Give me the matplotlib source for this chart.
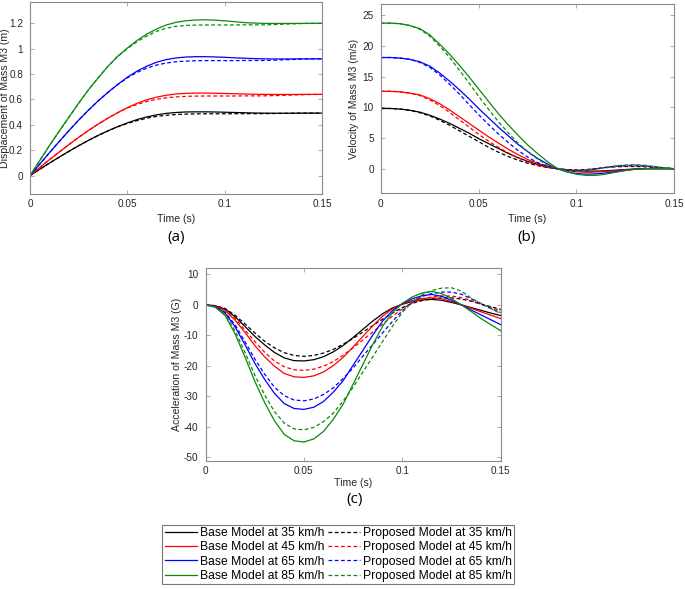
import numpy as np
import matplotlib
matplotlib.use("Agg")
import matplotlib.pyplot as plt
from matplotlib.lines import Line2D

plt.rcParams['font.family'] = ['Liberation Sans', 'DejaVu Sans']

# time axis, 0.005 s steps
time = np.round(np.arange(0, 0.1501, 0.005), 3)

speeds = ["35", "45", "65", "85"]
colors = ['black', '#ff0000', '#0000ff', '#0a8a0a']

# displacement (m)
disp_base = [
    [0, .049, .098, .145, .191, .235, .277, .316, .352, .385, .415, .441, .462, .478, .49, .497,
     .501, .502, .502, .501, .499, .497, .495, .493, .492, .491, .491, .491, .492, .492, .492],
    [0, .0625, .125, .185, .244, .301, .355, .405, .452, .495, .535, .569, .597, .618, .633, .643,
     .648, .65, .65, .649, .647, .645, .643, .641, .64, .639, .639, .639, .64, .64, .64],
    [0, .09, .18, .268, .354, .437, .515, .588, .655, .717, .775, .823, .862, .893, .914, .927,
     .934, .937, .937, .935, .932, .928, .925, .922, .92, .919, .919, .919, .92, .92, .92],
    [0, .118, .236, .35, .46, .57, .675, .77, .86, .94, 1.005, 1.065, 1.115, 1.155, 1.187, 1.208,
     1.22, 1.226, 1.228, 1.225, 1.22, 1.213, 1.206, 1.202, 1.2, 1.199, 1.199, 1.199, 1.2, 1.2, 1.2],
]
disp_prop = [
    [0, .049, .098, .145, .191, .235, .277, .316, .352, .384, .41, .433, .452, .466, .475, .481,
     .484, .486, .487, .487, .487, .487, .487, .488, .488, .489, .49, .491, .492, .492, .492],
    [0, .0625, .125, .185, .244, .301, .355, .405, .452, .494, .532, .56, .584, .601, .613, .62,
     .624, .626, .627, .627, .627, .627, .628, .628, .628, .63, .632, .635, .637, .639, .64],
    [0, .09, .18, .268, .354, .437, .515, .588, .655, .716, .77, .813, .847, .871, .887, .897,
     .902, .905, .906, .906, .906, .906, .907, .907, .907, .909, .912, .915, .918, .92, .92],
    [0, .118, .236, .35, .46, .57, .675, .77, .86, .938, 1.0, 1.055, 1.1, 1.137, 1.161, 1.176,
     1.183, 1.186, 1.187, 1.187, 1.187, 1.187, 1.188, 1.188, 1.188, 1.19, 1.193, 1.196, 1.198, 1.2, 1.2],
]

# velocity (m/s)
vel_base = [
    [9.8, 9.8, 9.7, 9.5, 9.2, 8.7, 8.1, 7.4, 6.6, 5.8, 4.9, 4.1, 3.3, 2.5, 1.8, 1.2,
     0.7, 0.3, 0.0, -0.2, -0.35, -0.4, -0.4, -0.35, -0.25, -0.15, -0.05, 0.0, 0.0, 0.0, 0.0],
    [12.6, 12.6, 12.5, 12.3, 12.0, 11.4, 10.6, 9.6, 8.5, 7.4, 6.3, 5.2, 4.2, 3.2, 2.3, 1.5,
     0.9, 0.4, 0.0, -0.3, -0.5, -0.6, -0.55, -0.45, -0.35, -0.2, -0.1, 0.0, 0.0, 0.0, 0.0],
    [18.1, 18.1, 18.0, 17.8, 17.4, 16.7, 15.6, 14.3, 12.9, 11.4, 9.8, 8.3, 6.8, 5.4, 4.0, 2.8,
     1.7, 0.8, 0.0, -0.5, -0.8, -0.9, -0.85, -0.7, -0.5, -0.3, -0.1, 0.0, 0.0, 0.0, 0.0],
    [23.7, 23.7, 23.6, 23.3, 22.8, 21.8, 20.3, 18.7, 16.9, 15.0, 13.0, 11.0, 9.0, 7.2, 5.5, 3.9,
     2.5, 1.2, 0.1, -0.5, -0.9, -1.1, -1.1, -0.9, -0.6, -0.3, -0.1, 0.0, 0.0, 0.0, 0.0],
]
vel_prop = [
    [9.8, 9.8, 9.7, 9.5, 9.1, 8.6, 7.9, 7.1, 6.2, 5.3, 4.4, 3.5, 2.7, 2.0, 1.4, 0.9,
     0.5, 0.2, 0.0, -0.15, -0.2, -0.15, 0.0, 0.15, 0.3, 0.35, 0.35, 0.3, 0.2, 0.08, 0.0],
    [12.6, 12.6, 12.5, 12.3, 11.9, 11.2, 10.3, 9.2, 8.0, 6.8, 5.6, 4.5, 3.5, 2.6, 1.8, 1.1,
     0.6, 0.2, 0.0, -0.2, -0.25, -0.2, 0.0, 0.2, 0.35, 0.45, 0.45, 0.4, 0.25, 0.1, 0.0],
    [18.1, 18.1, 18.0, 17.8, 17.3, 16.5, 15.3, 13.8, 12.2, 10.5, 8.8, 7.2, 5.7, 4.3, 3.0, 1.9,
     1.0, 0.4, 0.0, -0.25, -0.35, -0.25, -0.05, 0.2, 0.4, 0.5, 0.55, 0.45, 0.3, 0.12, 0.0],
    [23.7, 23.7, 23.6, 23.3, 22.7, 21.6, 20.0, 18.2, 16.1, 14.0, 11.8, 9.7, 7.7, 5.9, 4.2, 2.8,
     1.6, 0.6, 0.0, -0.3, -0.4, -0.3, -0.1, 0.2, 0.45, 0.6, 0.65, 0.55, 0.35, 0.15, 0.0],
]

# acceleration (G)
acc_base = [
    [0, -0.3, -1.4, -3.9, -7.0, -10.3, -13.1, -15.6, -17.4, -18.3, -18.4, -18.0, -17.0, -15.4, -13.3, -10.7,
     -8.0, -5.3, -2.9, -1.0, 0.2, 1.1, 1.6, 1.8, 1.5, 0.8, 0.0, -0.9, -1.8, -2.7, -3.5],
    [0, -0.4, -1.9, -5.0, -9.0, -13.3, -17.0, -20.1, -22.5, -23.6, -23.8, -23.3, -22.0, -19.9, -17.2, -13.8,
     -10.3, -6.9, -3.7, -1.3, 0.3, 1.4, 2.1, 2.3, 2.0, 1.1, 0.0, -1.1, -2.3, -3.4, -4.5],
    [0, -0.6, -2.7, -7.2, -13.0, -19.1, -24.4, -29.0, -32.4, -34.0, -34.3, -33.6, -31.7, -28.6, -24.8, -19.8,
     -14.9, -9.9, -5.3, -1.9, 0.4, 2.0, 3.0, 3.4, 2.8, 1.5, 0.0, -1.7, -3.3, -4.9, -6.5],
    [0, -0.8, -3.5, -9.5, -17.0, -25.0, -32.0, -38.0, -42.5, -44.6, -45.0, -44.0, -41.5, -37.5, -32.5, -26.0,
     -19.5, -13.0, -7.0, -2.5, 0.5, 2.6, 3.9, 4.4, 3.7, 2.0, 0.0, -2.2, -4.5, -6.5, -8.5],
]
acc_prop = [
    [0, -0.25, -1.2, -3.4, -6.2, -9.2, -11.9, -14.1, -15.7, -16.6, -16.9, -16.6, -15.8, -14.6, -12.9, -11.0,
     -8.9, -6.8, -4.7, -2.7, -0.9, 0.5, 1.4, 2.0, 2.3, 2.3, 1.9, 1.2, 0.3, -0.6, -1.5],
    [0, -0.35, -1.7, -4.4, -8.2, -12.0, -15.5, -18.4, -20.3, -21.3, -21.5, -21.1, -20.1, -18.6, -16.5, -14.1,
     -11.5, -8.9, -6.3, -3.7, -1.3, 0.6, 1.9, 2.6, 2.9, 2.9, 2.4, 1.4, 0.2, -0.9, -1.8],
    [0, -0.5, -2.5, -6.5, -12.0, -17.7, -22.7, -27.0, -29.8, -31.2, -31.5, -30.9, -29.4, -27.2, -24.1, -20.7,
     -16.8, -13.0, -9.2, -5.4, -1.9, 0.9, 2.8, 3.7, 4.2, 4.2, 3.5, 2.0, 0.3, -1.2, -2.5],
    [0, -0.7, -3.2, -8.5, -15.5, -23.0, -29.5, -35.0, -38.8, -40.7, -41.0, -40.2, -38.3, -35.5, -31.5, -27.0,
     -22.0, -17.0, -12.0, -7.0, -2.5, 1.0, 3.3, 4.7, 5.5, 5.6, 4.5, 2.2, 0.5, -1.2, -2.9],
]

fig = plt.figure(figsize=(6.85, 5.89), dpi=100)

ax_a = fig.add_axes([0.0438, 0.671, 0.4262, 0.326])
ax_b = fig.add_axes([0.556, 0.672, 0.428, 0.321])
ax_c = fig.add_axes([0.300, 0.218, 0.431, 0.3265])


def style(ax, ylabel, yticks, ylim, ylab_x, xlab_y):
    ax.set_xlim(0, 0.15)
    ax.set_ylim(*ylim)
    ax.set_xticks([0, 0.05, 0.1, 0.15])
    ax.set_xticklabels(["0", "0.05", "0.1", "0.15"])
    ax.set_yticks(yticks)
    ax.set_yticklabels([f"{v:g}" for v in yticks])
    ax.tick_params(direction='in', length=3, width=0.5, top=True, right=True,
                   labelsize=7.2, colors='#8a8a8a', labelcolor='#262626')
    ax.tick_params(axis='x', pad=4)
    ax.tick_params(axis='y', pad=5)
    for s in ax.spines.values():
        s.set_color('#8a8a8a')
        s.set_linewidth(0.8)
    ax.set_xlabel("Time (s)", fontsize=7.6, color='#262626')
    ax.xaxis.set_label_coords(0.5, xlab_y)
    ax.set_ylabel(ylabel, fontsize=7.6, color='#262626')
    ax.yaxis.set_label_coords(ylab_x, 0.5)


for i in range(4):
    ax_a.plot(time, disp_base[i], color=colors[i], lw=0.9)
    ax_a.plot(time, disp_prop[i], color=colors[i], lw=0.9, ls='--', dashes=(3, 2))
    ax_b.plot(time, vel_base[i], color=colors[i], lw=0.9)
    ax_b.plot(time, vel_prop[i], color=colors[i], lw=0.9, ls='--', dashes=(3, 2))
    ax_c.plot(time, acc_base[i], color=colors[i], lw=0.9)
    ax_c.plot(time, acc_prop[i], color=colors[i], lw=0.9, ls='--', dashes=(3, 2))

style(ax_a, "Displacement of Mass M3 (m)", [0, 0.2, 0.4, 0.6, 0.8, 1, 1.2], (-0.144, 1.37), -0.07, -0.104)
style(ax_b, "Velocity of Mass M3 (m/s)", [0, 5, 10, 15, 20, 25], (-4.0, 26.8), -0.075, -0.111)
style(ax_c, "Acceleration of Mass M3 (G)", [-50, -40, -30, -20, -10, 0, 10], (-51.1, 12.0), -0.08, -0.09)

fig.text(176 / 685, 1 - 238 / 589, "(a)", ha='center', va='center', fontsize=11,
         family=['Open Sans', 'DejaVu Sans'])
fig.text(527 / 685, 1 - 238 / 589, "(b)", ha='center', va='center', fontsize=11,
         family=['Open Sans', 'DejaVu Sans'])
fig.text(355 / 685, 1 - 500 / 589, "(c)", ha='center', va='center', fontsize=11,
         family=['Open Sans', 'DejaVu Sans'])

handles = []
labels = []
for i in range(4):
    handles.append(Line2D([], [], color=colors[i], lw=0.9))
    labels.append(f"Base Model at {speeds[i]} km/h")
for i in range(4):
    handles.append(Line2D([], [], color=colors[i], lw=0.9, ls='--', dashes=(3, 2)))
    labels.append(f"Proposed Model at {speeds[i]} km/h")

leg = fig.legend(handles, labels, ncol=2, loc='upper center', bbox_to_anchor=(0.4935, 0.109),
                 fontsize=8.7, frameon=True, fancybox=False, handlelength=2.7, handletextpad=0.2,
                 columnspacing=0.3, labelspacing=0.18, borderpad=0.2, borderaxespad=0)
leg.get_frame().set_edgecolor('#555555')
leg.get_frame().set_linewidth(0.8)

fig.savefig("out.png", dpi=100)
